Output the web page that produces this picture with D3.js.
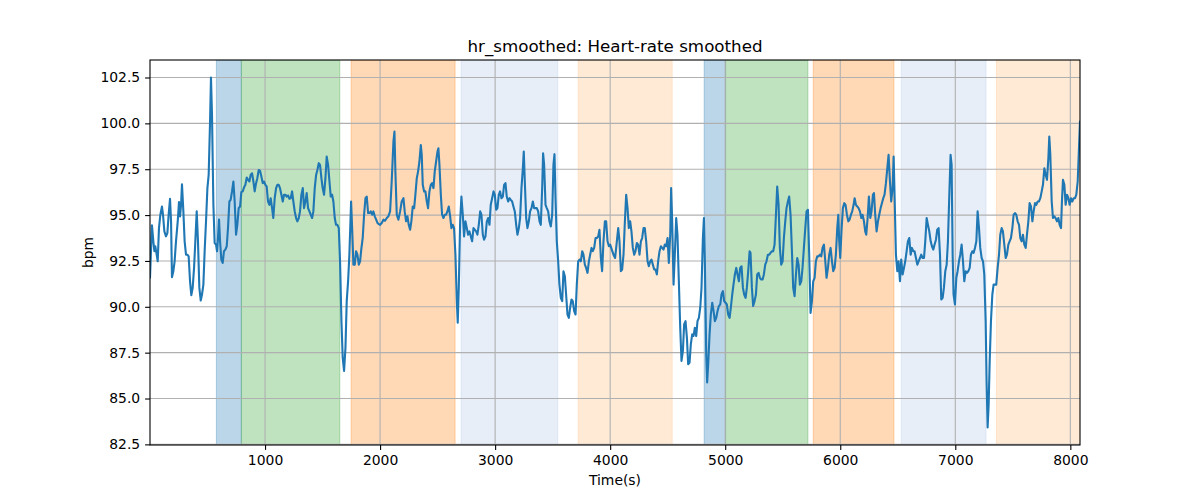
<!DOCTYPE html>
<html>
<head>
<meta charset="utf-8">
<script src="https://cdn.jsdelivr.net/npm/d3@7"></script>
<title>hr_smoothed</title>
<style>
  body { margin:0; background:#fff; }
  svg text { font-family:"DejaVu Sans", sans-serif; fill:#000; }
</style>
</head>
<body>
<div id="chart"></div>
<script>
// ---- data ----
var xTicks = [1000, 2000, 3000, 4000, 5000, 6000, 7000, 8000];
var yTicks = [82.5, 85, 87.5, 90, 92.5, 95, 97.5, 100, 102.5];

// shaded phases: start, end (s) and colour
var spanStart = [577, 794, 1748, 2704, 3722, 4817, 5003, 5765, 6530, 7357];
var spanEnd   = [794, 1650, 2652, 3545, 4539, 5003, 5719, 6467, 7267, 8120];
var spanColor = ["#1f77b4", "#2ca02c", "#ff7f0e", "#aec7e8", "#ffbb78",
                 "#1f77b4", "#2ca02c", "#ff7f0e", "#aec7e8", "#ffbb78"];

// [time (s), bpm]
var hrSmoothed = [
[0,91.6],[17,94.44],[29,93.57],[38,93.03],[46,93.3],[58,92.84],[67,92.48],[78,94.29],[90,95.02],[104,95.47],
[113,95.02],[125,94.11],[139,93.84],[151,94.02],[162,95.02],[174,95.89],[183,94.66],[191,91.61],[203,91.94],[214,92.48],
[226,93.57],[241,94.66],[252,95.71],[261,94.93],[270,95.56],[278,96.68],[290,95.2],[301,93.57],[313,92.84],[325,92.84],
[336,92.75],[348,91.39],[359,90.63],[371,91.03],[383,92.12],[394,93.57],[406,95.2],[417,93.57],[429,91.03],[441,90.34],
[452,90.67],[464,91.21],[475,93.03],[487,94.66],[499,96.47],[510,97.19],[522,100.09],[530,102.5],[539,100.45],[551,95.56],
[562,93.48],[574,93.39],[583,93.03],[591,93.75],[600,94.75],[609,93.57],[620,92.57],[632,92.39],[643,93.03],[655,93.12],
[667,93.3],[678,94.29],[690,95.74],[701,95.83],[713,96.29],[725,96.83],[736,95.74],[748,93.93],[759,94.47],[771,95.38],
[783,95.47],[794,96.25],[806,96.29],[817,96.5],[829,96.65],[841,97.05],[852,96.92],[864,96.83],[875,97.19],[887,97.28],
[899,96.83],[910,96.29],[922,96.74],[933,97.01],[945,97.46],[957,97.41],[968,97.1],[980,96.74],[991,96.83],[1003,96.65],
[1014,96.56],[1026,95.74],[1038,95.56],[1049,95.92],[1061,95.38],[1072,94.84],[1084,95.92],[1096,96.47],[1107,96.65],[1119,96.65],
[1130,96.47],[1142,96.11],[1154,95.74],[1165,96.11],[1177,96.11],[1188,96.01],[1200,96.07],[1212,95.89],[1223,95.92],[1235,96.29],
[1246,95.74],[1258,95.2],[1270,94.84],[1281,94.66],[1293,94.84],[1304,95.2],[1316,96.11],[1328,96.47],[1339,95.38],[1351,95.74],
[1362,96.2],[1374,95.38],[1386,95.2],[1397,95.02],[1409,94.84],[1420,95.2],[1432,96.47],[1444,97.19],[1455,97.46],[1467,97.83],
[1478,97.74],[1490,97.01],[1501,96.47],[1513,96.11],[1525,97.01],[1536,98.19],[1548,97.74],[1560,96.83],[1571,96.01],[1583,96.11],
[1594,95.74],[1606,94.84],[1617,94.47],[1629,94.47],[1641,94.29],[1652,92.48],[1664,89.22],[1675,87.23],[1687,86.5],[1699,87.77],
[1710,90.31],[1722,91.39],[1733,92.84],[1748,95.74],[1757,94.29],[1768,92.3],[1780,92.3],[1791,93.03],[1803,92.84],[1815,92.3],
[1826,92.48],[1838,93.21],[1849,93.75],[1861,95.02],[1873,95.92],[1884,96.01],[1896,95.11],[1907,95.11],[1919,95.2],[1931,95.02],
[1942,95.2],[1954,94.93],[1966,94.75],[1977,94.57],[1989,94.51],[2000,94.47],[2014,94.57],[2029,94.75],[2043,94.69],[2058,94.84],
[2072,94.93],[2087,95.2],[2101,96.83],[2116,99.0],[2125,99.55],[2133,97.37],[2145,95.02],[2159,94.75],[2174,95.2],[2188,95.74],
[2203,95.92],[2214,95.2],[2226,94.66],[2238,94.93],[2249,94.47],[2261,94.2],[2272,94.66],[2284,95.47],[2296,95.38],[2307,96.11],
[2319,97.01],[2330,97.37],[2342,97.92],[2354,98.82],[2362,98.28],[2371,96.65],[2383,96.29],[2394,96.29],[2406,95.74],[2417,95.38],
[2429,96.29],[2441,96.65],[2452,96.74],[2464,96.47],[2475,97.37],[2487,97.92],[2499,98.46],[2507,98.64],[2516,97.74],[2528,96.11],
[2539,95.02],[2551,94.84],[2562,95.02],[2574,95.02],[2585,95.2],[2597,95.47],[2609,94.93],[2620,94.29],[2632,94.47],[2643,94.29],
[2655,92.84],[2667,90.31],[2675,89.13],[2684,91.03],[2696,94.66],[2707,96.01],[2719,95.02],[2730,93.84],[2742,94.66],[2754,94.29],
[2765,93.93],[2777,94.11],[2788,93.84],[2800,93.57],[2812,94.29],[2823,94.2],[2835,94.11],[2846,93.93],[2858,94.47],[2870,95.2],
[2881,95.02],[2893,93.93],[2904,93.66],[2916,93.84],[2928,94.66],[2939,94.84],[2951,94.47],[2962,95.56],[2974,95.92],[2986,96.29],
[2997,96.11],[3009,95.29],[3020,95.38],[3032,96.11],[3043,96.29],[3055,95.92],[3067,96.01],[3078,96.65],[3090,96.74],[3101,96.01],
[3113,95.74],[3125,95.92],[3136,95.83],[3148,95.74],[3159,95.47],[3171,95.2],[3183,94.47],[3194,93.93],[3206,94.29],[3217,94.84],
[3229,96.47],[3241,97.55],[3249,98.46],[3258,96.83],[3270,94.84],[3281,94.29],[3293,94.66],[3304,95.2],[3316,95.38],[3328,95.74],
[3339,95.38],[3351,95.38],[3362,95.38],[3374,95.2],[3386,94.66],[3397,94.47],[3409,96.47],[3417,98.37],[3426,97.74],[3438,95.56],
[3449,95.38],[3461,95.2],[3472,94.66],[3484,94.38],[3496,95.02],[3507,97.74],[3516,98.32],[3525,95.92],[3536,93.57],[3548,92.48],
[3559,91.21],[3571,90.49],[3583,90.31],[3594,91.94],[3606,91.67],[3617,90.67],[3629,89.58],[3641,89.4],[3652,89.95],[3664,90.4],
[3675,90.31],[3687,89.76],[3699,89.58],[3710,91.21],[3722,92.48],[3733,92.57],[3745,92.48],[3757,93.03],[3768,92.84],[3780,92.3],
[3791,92.12],[3803,91.85],[3815,92.48],[3826,92.84],[3838,93.21],[3849,93.03],[3861,93.21],[3873,93.75],[3884,93.75],[3896,93.84],
[3907,94.2],[3919,92.66],[3930,91.94],[3942,93.57],[3954,94.66],[3965,94.66],[3977,93.57],[3989,93.3],[4000,93.39],[4014,93.12],
[4029,92.84],[4043,92.66],[4058,93.57],[4070,94.29],[4081,93.57],[4093,91.94],[4104,92.03],[4116,92.84],[4128,94.66],[4139,96.11],
[4151,95.38],[4162,94.29],[4174,94.66],[4185,94.11],[4197,93.21],[4209,92.84],[4220,93.03],[4232,93.48],[4243,93.39],[4255,92.84],
[4267,93.57],[4278,93.75],[4290,94.29],[4301,94.29],[4313,93.57],[4325,92.48],[4336,92.21],[4348,92.48],[4359,92.57],[4371,92.3],
[4383,92.03],[4394,92.03],[4406,91.76],[4417,92.48],[4429,93.03],[4441,93.3],[4452,93.21],[4464,93.12],[4475,93.39],[4487,93.3],
[4499,93.75],[4510,92.39],[4522,93.93],[4530,96.47],[4539,94.66],[4551,91.21],[4562,92.84],[4574,94.84],[4585,93.93],[4597,91.39],
[4609,88.86],[4620,87.05],[4632,87.59],[4643,89.04],[4655,89.22],[4667,88.32],[4678,86.87],[4690,86.96],[4701,87.95],[4713,88.5],
[4725,88.41],[4736,88.86],[4748,88.41],[4759,89.22],[4771,89.4],[4783,89.95],[4794,91.03],[4806,93.75],[4815,94.84],[4823,92.48],
[4835,87.41],[4843,85.87],[4852,86.87],[4864,88.5],[4875,89.58],[4887,90.22],[4899,89.76],[4910,89.22],[4922,89.4],[4933,89.76],
[4945,90.04],[4957,90.13],[4968,90.67],[4980,90.85],[4991,90.31],[5003,90.22],[5014,90.13],[5026,89.58],[5038,89.4],[5049,89.95],
[5061,90.67],[5072,91.21],[5084,91.76],[5096,92.12],[5107,91.76],[5119,91.39],[5130,92.12],[5142,92.21],[5154,91.03],[5165,90.67],
[5177,90.49],[5188,91.03],[5200,91.94],[5212,93.03],[5220,92.94],[5232,91.03],[5243,90.04],[5255,90.31],[5267,90.67],[5278,91.76],
[5290,91.85],[5301,91.58],[5313,91.49],[5325,91.49],[5336,91.76],[5348,92.3],[5359,92.48],[5371,92.84],[5383,92.84],[5394,92.94],
[5406,93.03],[5417,93.03],[5429,93.39],[5441,95.02],[5452,96.56],[5464,95.56],[5475,93.21],[5487,92.3],[5499,92.48],[5510,93.75],
[5522,94.66],[5533,95.38],[5545,95.74],[5556,96.01],[5568,95.02],[5580,93.03],[5591,91.03],[5603,90.58],[5615,91.76],[5626,92.66],
[5638,92.3],[5649,91.21],[5661,91.39],[5672,92.12],[5684,93.21],[5696,94.29],[5707,95.2],[5719,95.29],[5730,92.84],[5742,89.67],
[5754,90.31],[5765,91.39],[5777,91.58],[5788,92.48],[5800,92.75],[5812,92.75],[5823,92.84],[5835,92.75],[5846,93.21],[5858,93.39],
[5870,92.48],[5881,91.58],[5893,92.12],[5904,92.84],[5916,93.21],[5928,92.48],[5939,91.94],[5951,92.12],[5962,92.84],[5974,94.29],
[5983,95.02],[5991,93.57],[6000,92.66],[6012,94.29],[6023,95.38],[6035,95.65],[6046,95.56],[6058,95.02],[6070,94.66],[6081,94.75],
[6093,95.02],[6104,95.2],[6116,95.56],[6125,95.92],[6136,95.56],[6148,95.47],[6159,95.38],[6171,95.2],[6183,94.84],[6194,95.02],
[6206,94.66],[6217,94.11],[6226,93.93],[6238,94.84],[6249,96.01],[6261,94.84],[6272,95.2],[6284,96.11],[6293,96.2],[6304,95.02],
[6316,94.11],[6328,94.66],[6339,95.02],[6351,95.38],[6362,95.65],[6374,95.92],[6385,96.11],[6397,96.74],[6409,97.55],[6420,98.28],
[6432,96.83],[6443,95.74],[6455,96.47],[6464,98.19],[6472,96.11],[6484,92.84],[6496,91.94],[6507,92.48],[6519,91.39],[6530,92.57],
[6542,91.76],[6554,92.12],[6565,92.48],[6577,93.03],[6588,93.57],[6600,93.75],[6612,92.84],[6623,93.21],[6635,93.03],[6646,93.03],
[6658,92.66],[6670,92.3],[6681,92.48],[6693,92.66],[6704,92.84],[6716,92.66],[6728,92.66],[6739,93.57],[6751,94.84],[6762,94.47],
[6774,94.11],[6786,93.57],[6797,93.3],[6809,93.12],[6820,93.39],[6832,93.66],[6843,94.2],[6855,94.29],[6867,92.84],[6878,90.4],
[6890,90.49],[6901,91.03],[6913,91.94],[6925,92.3],[6936,93.57],[6948,96.11],[6959,98.28],[6968,97.74],[6977,92.84],[6985,90.67],
[6997,90.13],[7009,91.58],[7020,91.94],[7032,92.48],[7043,92.84],[7055,93.39],[7067,92.48],[7078,91.39],[7090,91.94],[7101,91.85],
[7113,91.94],[7125,92.12],[7136,92.84],[7148,93.03],[7159,92.94],[7171,93.21],[7183,93.57],[7194,95.2],[7206,94.29],[7217,93.21],
[7229,92.66],[7241,92.48],[7252,91.76],[7264,89.22],[7272,85.96],[7281,83.42],[7290,84.69],[7299,87.05],[7310,89.22],[7322,90.67],
[7333,91.21],[7345,91.21],[7356,91.21],[7368,92.12],[7380,92.84],[7391,93.93],[7403,94.29],[7414,94.11],[7426,93.39],[7438,92.66],
[7449,92.84],[7461,93.39],[7472,93.57],[7484,93.75],[7496,94.29],[7507,95.02],[7519,95.11],[7530,95.02],[7542,94.66],[7554,94.47],
[7565,93.75],[7577,93.57],[7588,93.93],[7600,93.39],[7612,93.21],[7623,93.93],[7635,94.66],[7646,95.65],[7658,95.47],[7670,94.66],
[7681,95.2],[7693,95.65],[7704,95.56],[7716,95.74],[7727,95.74],[7739,95.92],[7751,96.29],[7762,96.65],[7774,97.55],[7786,97.19],
[7797,96.92],[7809,98.1],[7817,99.28],[7826,98.28],[7838,95.74],[7849,94.84],[7861,94.93],[7872,94.84],[7884,94.66],[7896,94.84],
[7907,94.47],[7919,94.29],[7927,95.74],[7936,96.92],[7948,96.65],[7959,95.56],[7971,96.11],[7983,95.92],[7994,95.56],[8006,95.92],
[8017,95.74],[8029,95.92],[8041,95.92],[8052,96.11],[8064,96.83],[8075,98.64],[8084,100.09]
];

// ---- layout ----
var W = 1200, H = 500;
var m = {top:60, right:120, bottom:55, left:150};

var svg = d3.select("#chart").append("svg")
	.attr("width", W).attr("height", H);

var x = d3.scaleLinear()
	.domain(d3.extent(hrSmoothed, function(d){ return d[0]; }))
	.range([m.left, W - m.right]);

// matplotlib-like 5% padding on y
var yExt = d3.extent(hrSmoothed, function(d){ return d[1]; });
var pad = (yExt[1] - yExt[0]) * 0.05;
var y = d3.scaleLinear()
	.domain([yExt[0] - pad, yExt[1] + pad])
	.range([H - m.bottom, m.top]);

svg.append("clipPath").attr("id", "plot")
	.append("rect")
	.attr("x", m.left).attr("y", m.top)
	.attr("width", W - m.left - m.right)
	.attr("height", H - m.top - m.bottom);

var plot = svg.append("g").attr("clip-path", "url(#plot)");

// shaded spans
plot.selectAll("rect.span")
	.data(spanStart)
	.enter().append("rect")
	.attr("class", "span")
	.attr("x", function(d){ return x(d); })
	.attr("width", function(d, i){ return x(spanEnd[i]) - x(d); })
	.attr("y", m.top)
	.attr("height", H - m.top - m.bottom)
	.attr("fill", function(d, i){ return spanColor[i]; })
	.attr("fill-opacity", 0.3)
	.attr("stroke", function(d, i){ return spanColor[i]; })
	.attr("stroke-opacity", 0.3)
	.attr("stroke-width", 1);

// grid
plot.selectAll("line.gx")
	.data(xTicks)
	.enter().append("line")
	.attr("x1", function(d){ return x(d); }).attr("x2", function(d){ return x(d); })
	.attr("y1", m.top).attr("y2", H - m.bottom)
	.attr("stroke", "#b0b0b0").attr("stroke-width", 1.1);
plot.selectAll("line.gy")
	.data(yTicks)
	.enter().append("line")
	.attr("y1", function(d){ return y(d); }).attr("y2", function(d){ return y(d); })
	.attr("x1", m.left).attr("x2", W - m.right)
	.attr("stroke", "#b0b0b0").attr("stroke-width", 1.1);

// the series
var line = d3.line()
	.x(function(d){ return x(d[0]); })
	.y(function(d){ return y(d[1]); });
plot.append("path")
	.datum(hrSmoothed)
	.attr("d", line)
	.attr("fill", "none")
	.attr("stroke", "#1f77b4")
	.attr("stroke-width", 2.1)
	.attr("stroke-linejoin", "round")
	.attr("stroke-linecap", "square");

// axes
var xAxis = svg.append("g")
	.attr("transform", "translate(0," + (H - m.bottom) + ")")
	.call(d3.axisBottom(x).tickValues(xTicks).tickSize(4.9).tickPadding(5.5).tickFormat(d3.format("d")));
var yAxis = svg.append("g")
	.attr("transform", "translate(" + m.left + ",0)")
	.call(d3.axisLeft(y).tickValues(yTicks).tickSize(4.9).tickPadding(4.9).tickFormat(d3.format(".1f")));
[xAxis, yAxis].forEach(function(g){
	g.select(".domain").remove();
	g.selectAll(".tick line").attr("stroke", "#000").attr("stroke-width", 1.1);
	g.selectAll(".tick text").style("font-size", "13.9px").style("font-family", "DejaVu Sans");
});

// spines
svg.append("rect")
	.attr("x", m.left).attr("y", m.top)
	.attr("width", W - m.left - m.right)
	.attr("height", H - m.top - m.bottom)
	.attr("fill", "none").attr("stroke", "#000").attr("stroke-width", 1.1);

// labels
svg.append("text")
	.attr("x", (m.left + W - m.right) / 2).attr("y", m.top - 8.5)
	.attr("text-anchor", "middle")
	.style("font-size", "16.7px")
	.text("hr_smoothed: Heart-rate smoothed");
svg.append("text")
	.attr("x", (m.left + W - m.right) / 2).attr("y", H - 15)
	.attr("text-anchor", "middle")
	.style("font-size", "13.9px")
	.text("Time(s)");
svg.append("text")
	.attr("transform", "translate(93," + ((m.top + H - m.bottom) / 2) + ") rotate(-90)")
	.attr("text-anchor", "middle")
	.style("font-size", "13.9px")
	.text("bpm");
</script>
</body>
</html>
